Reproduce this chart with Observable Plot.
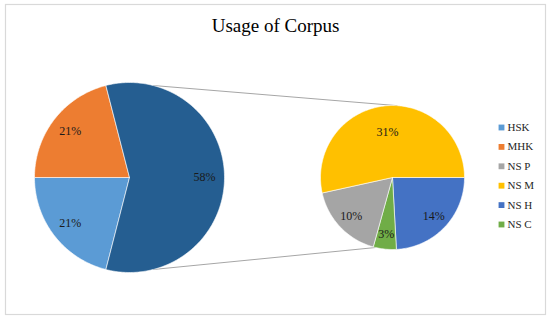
<!DOCTYPE html>
<html>
<head>
<meta charset="utf-8">
<script src="https://cdn.jsdelivr.net/npm/d3@7"></script>
<script src="https://cdn.jsdelivr.net/npm/@observablehq/plot@0.6"></script>
<style>
  html, body { margin: 0; padding: 0; background: #fff; }
  #chart svg { display: block; }
</style>
</head>
<body>
<div id="chart"></div>
<script>
// ---- data ----
const title = "Usage of Corpus";
const primaryLabels = ["HSK", "MHK", "Other"];
const primaryValues = [21, 21, 58];
const secondaryLabels = ["NS H", "NS C", "NS P", "NS M"];
const secondaryValues = [14, 3, 10, 31];
const legendLabels = ["HSK", "MHK", "NS P", "NS M", "NS H", "NS C"];

// ---- style ----
const palette = {
  "HSK": "#5B9BD5", "MHK": "#ED7D31", "Other": "#255E91",
  "NS P": "#A5A5A5", "NS M": "#FFC000", "NS H": "#4472C4", "NS C": "#70AD47"
};
const W = 550, H = 321;
const serif = "'Liberation Serif', 'Times New Roman', serif";
const P = {cx: 129, cy: 177, r: 95};
const S = {cx: 392, cy: 177, r: 72};

const pt = (g, a, f = 1) => ({x: g.cx + g.r * f * Math.sin(a), y: g.cy - g.r * f * Math.cos(a)});

function buildPie(labels, values, g, start, labelR) {
  const rows = labels.map((k, i) => ({key: k, v: values[i]}));
  const arcs = d3.pie().sort(null).value(d => d.v).startAngle(start).endAngle(start + 2 * Math.PI)(rows);
  const poly = [], labs = [];
  arcs.forEach(a => {
    const key = a.data.key;
    poly.push({key, x: g.cx, y: g.cy});
    const n = Math.max(4, Math.ceil((a.endAngle - a.startAngle) / (Math.PI / 180)));
    for (let i = 0; i <= n; i++) {
      const ang = a.startAngle + (a.endAngle - a.startAngle) * i / n;
      poly.push({key, ...pt(g, ang)});
    }
    poly.push({key, x: g.cx, y: g.cy});
    const mid = (a.startAngle + a.endAngle) / 2;
    const f = labelR(a);
    labs.push({key, text: a.data.v + "%", ...pt(g, mid, f)});
  });
  return {poly: poly.map(d => ({...d, z: g === P ? "p-" + d.key : "s-" + d.key})), labs, arcs};
}

const total = d3.sum(primaryValues);
const other = primaryValues[primaryValues.length - 1];
const pStart = Math.PI / 2 - Math.PI * other / total - 2 * Math.PI * (total - other) / total;
const prim = buildPie(primaryLabels, primaryValues, P, pStart, a => 0.79);
const sec = buildPie(secondaryLabels, secondaryValues, S, Math.PI / 2,
  a => (a.endAngle - a.startAngle > Math.PI ? 0.64 : 0.79));

// connector lines between the pies
const deg = Math.PI / 180;
const otherHalf = Math.PI * other / total;
const connectors = [
  {a: pt(P, otherHalf - Math.PI / 2), b: pt(S, 4 * deg)},
  {a: pt(P, Math.PI * 1.5 - otherHalf), b: pt(S, 193.5 * deg)}
].map(d => ({x1: d.a.x, y1: d.a.y, x2: d.b.x, y2: d.b.y}));

const legendRows = legendLabels.map((k, i) => ({key: k, i}));

const chart = Plot.plot({
  width: W, height: H,
  margin: 0,
  x: {domain: [0, W], range: [0, W], axis: null},
  y: {domain: [0, H], range: [0, H], axis: null},
  color: {domain: Object.keys(palette), range: Object.values(palette)},
  style: {fontFamily: serif, background: "#fff"},
  marks: [
    Plot.frame({stroke: "#d9d9d9", strokeWidth: 1.2, insetLeft: 5, insetTop: 4, insetRight: 5, insetBottom: 7}),
    Plot.text([title], {x: () => W / 2, y: () => 25, text: d => d, fontSize: 19, fill: "#000", fontFamily: serif}),
    Plot.link(connectors, {x1: "x1", y1: "y1", x2: "x2", y2: "y2", stroke: "#a6a6a6", strokeWidth: 1}),
    Plot.line(prim.poly, {x: "x", y: "y", z: "z", fill: "key", stroke: "#fff", strokeWidth: 0.6, curve: "linear"}),
    Plot.line(sec.poly, {x: "x", y: "y", z: "z", fill: "key", stroke: "#fff", strokeWidth: 0.6, curve: "linear"}),
    Plot.text(prim.labs.concat(sec.labs), {x: "x", y: "y", text: "text", fontSize: 12, fill: "#1a1a1a", fontFamily: serif}),
    Plot.dot(legendRows, {x: () => 501, y: d => 127 + d.i * 19.4, symbol: "square", r: 3.3, fill: "key", stroke: "none"}),
    Plot.text(legendRows, {x: () => 507, y: d => 127 + d.i * 19.4, text: "key", textAnchor: "start", fontSize: 11, fill: "#262626", fontFamily: serif})
  ]
});
document.getElementById("chart").appendChild(chart);
</script>
</body>
</html>
